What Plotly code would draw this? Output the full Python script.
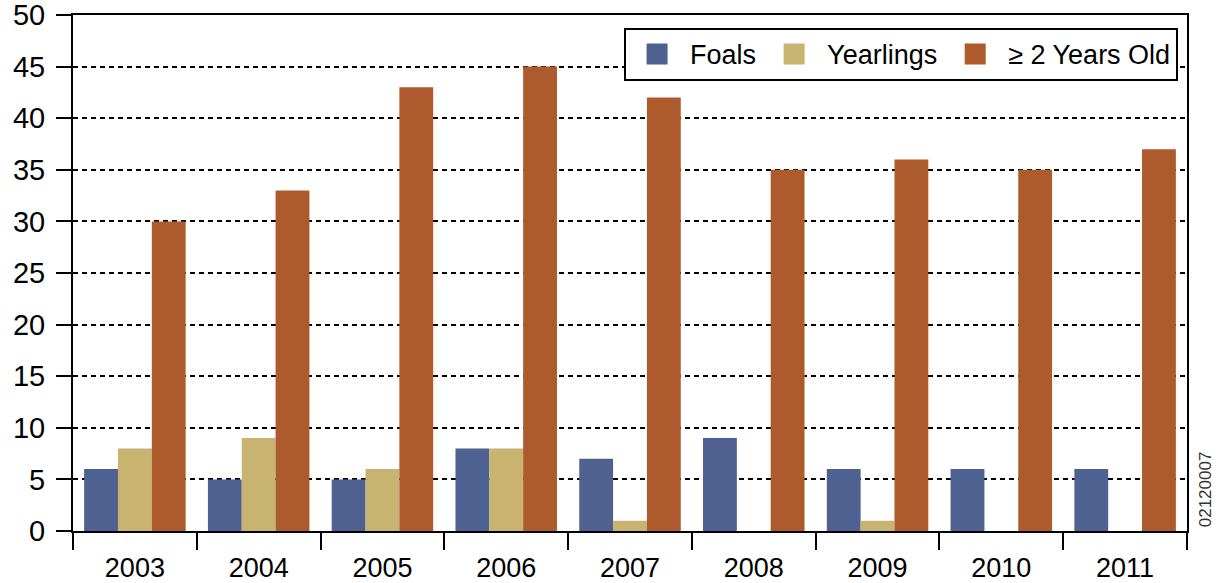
import plotly.graph_objects as go

years = ["2003", "2004", "2005", "2006", "2007", "2008", "2009", "2010", "2011"]
foals = [6, 5, 5, 8, 7, 9, 6, 6, 6]
yearlings = [8, 9, 6, 8, 1, 0, 1, 0, 0]
two_plus = [30, 33, 43, 45, 42, 35, 36, 35, 37]
y_ticks = [0, 5, 10, 15, 20, 25, 30, 35, 40, 45, 50]

series = [
    ("Foals", foals, "#4F6191"),
    ("Yearlings", yearlings, "#C8B371"),
    ("≥ 2 Years Old", two_plus, "#AD5A2D"),
]

fig = go.Figure()
for name, vals, col in series:
    fig.add_bar(x=years, y=vals, name=name, marker_color=col, marker_line_width=0,
                showlegend=False, legendgroup=name)
for name, vals, col in series:
    fig.add_scatter(x=[None], y=[None], mode="markers", name=name, legendgroup=name,
                    marker=dict(symbol="square", size=16, color=col,
                                line=dict(width=5, color=col)))

fig.update_layout(
    width=1221, height=583,
    margin=dict(l=73, r=34, t=15, b=52),
    barmode="group", bargap=0.18, bargroupgap=0,
    plot_bgcolor="white", paper_bgcolor="white",
    font=dict(family="Liberation Sans, Arial, sans-serif", color="black"),
    legend=dict(
        x=0.992, xanchor="right", y=0.975, yanchor="top",
        orientation="h", bgcolor="white", bordercolor="black", borderwidth=2,
        font=dict(size=27), itemwidth=56,
    ),
    annotations=[dict(
        text="02120007", x=1.0162, y=0.081, xref="paper", yref="paper", xanchor="center",
        yanchor="middle", showarrow=False, textangle=-90, font=dict(size=17, color="#333"),
    )],
)
fig.update_xaxes(
    type="category", tickson="boundaries", ticks="outside", ticklen=17, tickwidth=2,
    tickcolor="black", showline=True, linecolor="black", linewidth=2, mirror=True,
    tickfont=dict(size=27), showgrid=False, automargin=False, ticklabelstandoff=12,
)
fig.update_yaxes(
    range=[0, 50], tickvals=y_ticks, ticks="outside", ticklen=15, tickwidth=2,
    tickcolor="black", showline=True, linecolor="black", linewidth=2, mirror=True,
    tickfont=dict(size=29), showgrid=True, gridcolor="black", gridwidth=2,
    griddash="5px,4px", zeroline=False, automargin=False, ticklabeloverflow="allow",
    ticklabelstandoff=5,
)

fig.write_html("out.html", config={"displayModeBar": False},
               post_script="document.body.style.margin='0';")
